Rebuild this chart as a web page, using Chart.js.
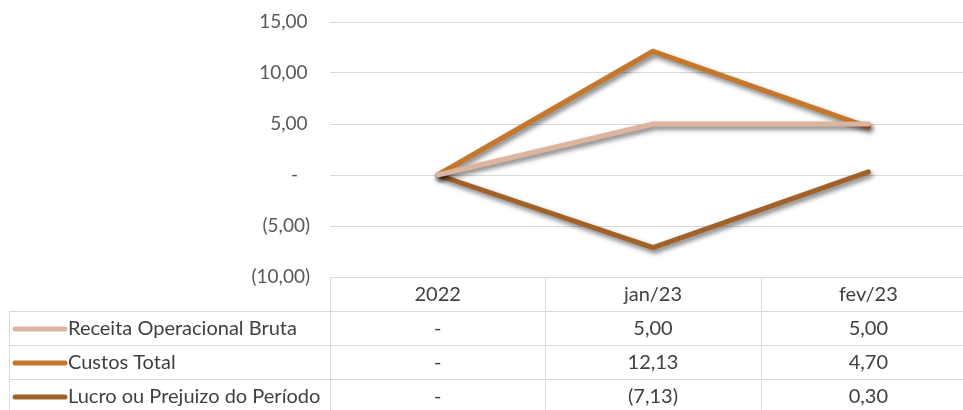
<!DOCTYPE html>
<html>
<head>
<meta charset="utf-8">
<script src="https://cdn.jsdelivr.net/npm/chart.js@4"></script>
<style>
  html, body { margin: 0; padding: 0; background: #fff; overflow: hidden; }
  canvas { display: block; }
</style>
</head>
<body>
<canvas id="chart" width="976" height="410" style="width:976px;height:410px"></canvas>
<script>
const categories = ["2022", "jan/23", "fev/23"];
const seriesNames = ["Receita Operacional Bruta", "Custos Total", "Lucro ou Prejuizo do Período"];
const receita = [0, 5.00, 5.00];
const custos = [0, 12.13, 4.70];
const lucro = [0, -7.13, 0.30];
const seriesColors = ["#DDB4A0", "#C5772B", "#A3612A"];
const yMin = -10;
const yMax = 15;
const yStep = 5;

const FONT = "Lato, 'Open Sans', sans-serif";

// accounting style: 0 -> "-", negatives in brackets, comma decimals
function fmt(v) {
    if (Math.abs(v) < 0.005) return "-";
    const s = Math.abs(v).toFixed(2).replace(".", ",");
    return v < 0 ? "(" + s + ")" : s;
}

// same, but padded on the right like Excel's accounting format on the axis
function axisFmt(v) {
    if (Math.abs(v) < 0.005) return "-\u2002\u2009";
    return v < 0 ? fmt(v) : fmt(v) + "\u2009";
}

const shadowPlugin = {
    id: "shadow",
    beforeDatasetDraw(chart) {
        const ctx = chart.ctx;
        ctx.save();
        ctx.shadowColor = "rgba(0,0,0,0.55)";
        ctx.shadowBlur = 5;
        ctx.shadowOffsetX = 2;
        ctx.shadowOffsetY = 3;
    },
    afterDatasetDraw(chart) {
        chart.ctx.restore();
    }
};

const tablePlugin = {
    id: "dataTable",
    afterDraw(chart) {
        const ctx = chart.ctx;
        const x = chart.scales.x;
        const area = chart.chartArea;
        const top = area.bottom;
        const rowH = 34;
        const left = 9;
        const right = chart.width;
        const colW = (area.right - area.left) / categories.length;
        const series = [receita, custos, lucro];

        ctx.save();
        ctx.strokeStyle = "#D9D9D9";
        ctx.lineWidth = 1;
        ctx.beginPath();
        // vertical separators
        for (let i = 0; i < categories.length; i++) {
            const cx = Math.round(area.left + i * colW) + 0.5;
            ctx.moveTo(cx, top);
            ctx.lineTo(cx, chart.height);
        }
        // horizontal lines
        for (let r = 1; r <= series.length; r++) {
            const y = Math.round(top + r * rowH) + 0.5;
            ctx.moveTo(left, y);
            ctx.lineTo(right, y);
        }
        ctx.moveTo(left + 0.5, top + rowH);
        ctx.lineTo(left + 0.5, chart.height);
        ctx.stroke();

        ctx.font = "20px " + FONT;
        ctx.textBaseline = "middle";
        ctx.fillStyle = "#404040";
        ctx.textAlign = "center";
        categories.forEach((c, i) => {
            ctx.fillText(c, x.getPixelForValue(i), top + rowH / 2 + 1);
        });
        series.forEach((data, s) => {
            const cy = top + rowH * (s + 1) + rowH / 2 + 1;
            ctx.textAlign = "center";
            ctx.fillStyle = "#404040";
            data.forEach((v, i) => {
                ctx.fillText(fmt(v), x.getPixelForValue(i), cy);
            });
            // legend key
            ctx.strokeStyle = seriesColors[s];
            ctx.lineWidth = 5;
            ctx.lineCap = "round";
            ctx.beginPath();
            ctx.moveTo(15, cy);
            ctx.lineTo(65, cy);
            ctx.stroke();
            ctx.textAlign = "left";
            ctx.fillStyle = "#404040";
            ctx.fillText(seriesNames[s], 68, cy);
        });
        ctx.restore();
    }
};

new Chart(document.getElementById("chart"), {
    type: "line",
    data: {
        labels: categories,
        datasets: [receita, custos, lucro].map((d, i) => ({
            label: seriesNames[i],
            data: d,
            borderColor: seriesColors[i],
            backgroundColor: seriesColors[i],
            borderWidth: 5,
            borderCapStyle: "round",
            borderJoinStyle: "round",
            pointRadius: 0,
            tension: 0,
            clip: false
        }))
    },
    options: {
        responsive: false,
        animation: false,
        layout: { padding: { top: 22, bottom: 133, left: 0, right: 0 } },
        plugins: {
            legend: { display: false },
            tooltip: { enabled: false }
        },
        scales: {
            x: { display: false, offset: true },
            y: {
                min: yMin,
                max: yMax,
                afterFit(scale) { scale.width = 330; },
                border: { display: false },
                grid: {
                    color: "#D9D9D9",
                    lineWidth: 1,
                    drawTicks: true,
                    tickLength: 20,
                    tickColor: "rgba(0,0,0,0)"
                },
                ticks: {
                    stepSize: yStep,
                    padding: 0,
                    color: "#595959",
                    font: { family: FONT, size: 19 },
                    callback: v => axisFmt(v)
                }
            }
        }
    },
    plugins: [shadowPlugin, tablePlugin]
});
</script>
</body>
</html>
